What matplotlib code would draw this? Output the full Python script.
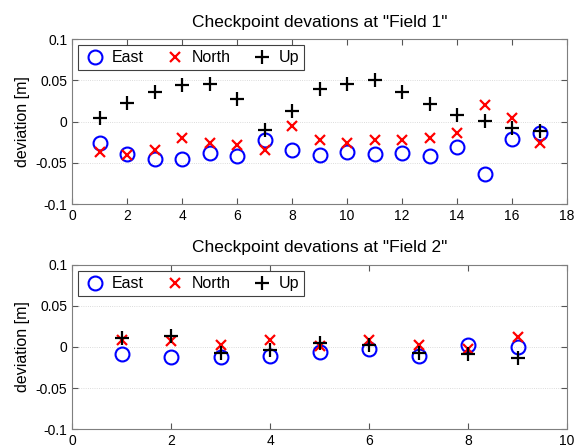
import numpy as np
import matplotlib
matplotlib.use("Agg")
import matplotlib.pyplot as plt

plt.rcParams['font.family'] = ['Liberation Sans', 'DejaVu Sans']

# Field 1
pts1 = np.arange(1, 18)
east1 = [-0.026, -0.039, -0.046, -0.046, -0.038, -0.042, -0.023, -0.034, -0.041,
         -0.037, -0.039, -0.038, -0.042, -0.031, -0.064, -0.021, -0.014]
north1 = [-0.037, -0.040, -0.034, -0.020, -0.026, -0.028, -0.035, -0.006, -0.023,
          -0.026, -0.022, -0.022, -0.020, -0.014, 0.020, 0.004, -0.026]
up1 = [0.004, 0.022, 0.036, 0.044, 0.046, 0.027, -0.010, 0.013, 0.039,
       0.046, 0.050, 0.036, 0.021, 0.008, 0.001, -0.008, -0.012]

# Field 2
pts2 = np.arange(1, 10)
east2 = [-0.0085, -0.012, -0.0125, -0.011, -0.0065, -0.003, -0.0105, 0.002, 0.0]
north2 = [0.009, 0.007, 0.002, 0.009, 0.001, 0.008, 0.003, -0.002, 0.012]
up2 = [0.011, 0.013, -0.007, -0.004, 0.0045, 0.002, -0.007, -0.008, -0.014]

fig = plt.figure(figsize=(5.78, 4.48), dpi=100)
ax1 = fig.add_axes([0.1246, 0.5446, 0.8564, 0.3683])
ax2 = fig.add_axes([0.1246, 0.0424, 0.8564, 0.3661])

panels = [(ax1, pts1, east1, north1, up1, 'Checkpoint devations at "Field 1"', 18),
          (ax2, pts2, east2, north2, up2, 'Checkpoint devations at "Field 2"', 10)]

for ax, x, e, n, u, title, xmax in panels:
    ax.plot(x, e, 'o', mfc='none', mec='#0000ff', ms=10, mew=1.5, label='East')
    ax.plot(x, n, 'x', color='#ff0000', ms=7.5, mew=1.6, label='North')
    ax.plot(x, u, '+', color='black', ms=10, mew=1.6, label='Up')
    ax.set_xlim(0, xmax)
    ax.set_ylim(-0.1, 0.1)
    ax.set_xticks(np.arange(0, xmax + 1, 2))
    ax.set_yticks([-0.1, -0.05, 0, 0.05, 0.1])
    ax.set_yticklabels(['-0.1', '-0.05', '0', '0.05', '0.1'])
    ax.yaxis.grid(True, linestyle=':', color='#d0d0d0', linewidth=0.6)
    ax.tick_params(direction='in', top=True, right=True, labelsize=10,
                   color='#555555', length=4)
    for s in ax.spines.values():
        s.set_color('#7f7f7f')
    ax.set_title(title, fontsize=12.5, pad=9)
    ax.set_ylabel('deviation [m]', fontsize=11.5)
    leg = ax.legend(loc='upper left', ncol=3, fontsize=11.5, fancybox=False,
                    framealpha=1, edgecolor='#404040', handletextpad=0.3,
                    columnspacing=1.2, borderpad=0.3, handlelength=1.5,
                    borderaxespad=0.4)
    leg.get_frame().set_linewidth(0.8)

fig.savefig('out.png', dpi=100)
